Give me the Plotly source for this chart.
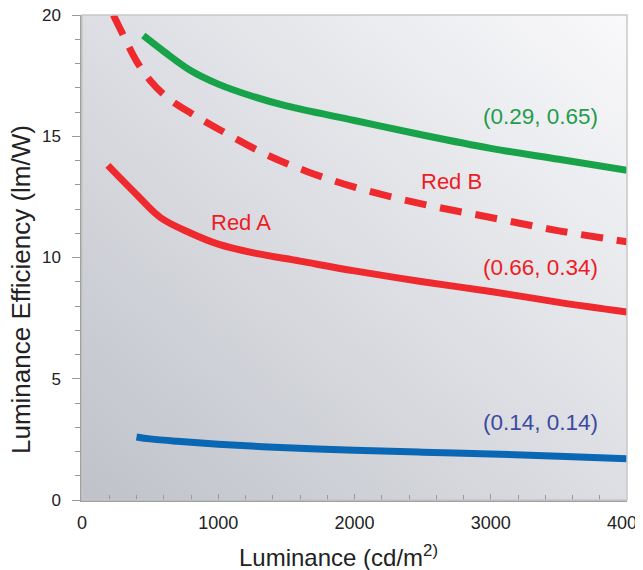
import plotly.graph_objects as go

# ---- data ----
lum_green = [450, 600, 800, 1000, 1250, 1500, 2000, 2500, 3000, 3500, 4000]
eff_green = [19.15, 18.5, 17.7, 17.15, 16.65, 16.25, 15.65, 15.05, 14.5, 14.05, 13.6]

lum_redb = [230, 300, 400, 500, 625, 800, 1000, 1350, 1650, 2000, 2500, 3000, 3500, 4000]
eff_redb = [20.0, 19.2, 18.1, 17.3, 16.6, 15.95, 15.3, 14.25, 13.55, 12.9, 12.2, 11.65, 11.1, 10.65]

lum_reda = [190, 400, 575, 800, 1000, 1250, 1600, 2000, 2500, 3000, 3500, 4000]
eff_reda = [13.8, 12.6, 11.65, 11.0, 10.55, 10.2, 9.85, 9.45, 9.0, 8.6, 8.15, 7.75]

lum_blue = [400, 500, 700, 1000, 1500, 2000, 2500, 3000, 3500, 4000]
eff_blue = [2.6, 2.52, 2.42, 2.3, 2.15, 2.05, 1.97, 1.9, 1.8, 1.7]

labels = ["(0.29, 0.65)", "Red B", "Red A", "(0.66, 0.34)", "(0.14, 0.14)"]
label_x = [3365, 2713, 1168, 3365, 3365]
label_y = [15.8, 13.15, 11.46, 9.57, 3.18]
label_colors = ["#1f9d4c", "#ee1c25", "#ee1c25", "#ee1c25", "#3c4aa0"]
label_sizes = [22.5, 22, 22, 22.5, 22.5]

x_ticks = [0, 1000, 2000, 3000, 4000]
y_ticks = [0, 5, 10, 15, 20]
x_title = "Luminance (cd/m<sup>2)</sup>"
y_title = "Luminance Efficiency (lm/W)"

GREEN = "#18a34a"
RED = "#ee2a2f"
BLUE = "#0a67b4"
FONT = "Liberation Sans, Arial, sans-serif"

fig = go.Figure()
fig.add_trace(go.Scatter(x=lum_green, y=eff_green, mode="lines",
                         line=dict(color=GREEN, width=7, shape="spline"), showlegend=False))
fig.add_trace(go.Scatter(x=lum_redb, y=eff_redb, mode="lines",
                         line=dict(color=RED, width=7, shape="spline", dash="22px,14px"),
                         showlegend=False))
fig.add_trace(go.Scatter(x=lum_reda, y=eff_reda, mode="lines",
                         line=dict(color=RED, width=7, shape="spline"), showlegend=False))
fig.add_trace(go.Scatter(x=lum_blue, y=eff_blue, mode="lines",
                         line=dict(color=BLUE, width=7, shape="spline"), showlegend=False))

for t, x, y, c, s in zip(labels, label_x, label_y, label_colors, label_sizes):
    fig.add_annotation(x=x, y=y, text=t, showarrow=False,
                       font=dict(family=FONT, size=s, color=c))

# axis titles (placed as annotations to match the reference's off-centre positions)
fig.add_annotation(text=x_title, xref="paper", yref="paper", x=0.471, y=0,
                   xanchor="center", yanchor="top", yshift=-39, showarrow=False,
                   font=dict(family=FONT, size=24, color="#222"))
fig.add_annotation(text=y_title, xref="paper", yref="paper", x=0, y=0.433,
                   xanchor="right", yanchor="middle", xshift=-45, textangle=-90,
                   showarrow=False, borderpad=0,
                   font=dict(family=FONT, size=26, color="#222"))

svg = ("data:image/svg+xml;utf8,<svg xmlns='http://www.w3.org/2000/svg' width='100' height='100' "
       "preserveAspectRatio='none' viewBox='0 0 100 100'><defs><linearGradient id='g' x1='0' y1='1' x2='1' y2='0'>"
       "<stop offset='0' stop-color='%23bfc2c9'/><stop offset='0.5' stop-color='%23dcdee3'/>"
       "<stop offset='1' stop-color='%23f9f9fb'/></linearGradient></defs>"
       "<rect width='100' height='100' fill='url(%23g)'/></svg>")
fig.add_layout_image(dict(source=svg, xref="paper", yref="paper", x=0, y=1,
                          sizex=1, sizey=1, sizing="stretch", layer="below",
                          xanchor="left", yanchor="top"))

fig.add_shape(type="rect", xref="paper", yref="paper", x0=0, y0=0, x1=1, y1=1,
              line=dict(color="#c8c8c8", width=1.5), layer="above")

fig.update_layout(
    width=643, height=570,
    margin=dict(l=74, r=24, t=7, b=78),
    paper_bgcolor="white", plot_bgcolor="rgba(0,0,0,0)",
    font=dict(family=FONT, color="#222"),
)
fig.update_xaxes(range=[0, 4000], tickvals=x_ticks, ticks="inside", ticklen=6,
                 tickcolor="#999", showgrid=False, zeroline=False, automargin=False,
                 showline=True, linecolor="#a0a0a0", linewidth=1.5,
                 ticklabeloverflow="allow", ticklabelstandoff=6,
                 tickfont=dict(family=FONT, size=18, color="#222"),
                 minor=dict(dtick=200, ticks="inside", ticklen=5, tickcolor="#999"))
fig.update_yaxes(range=[0, 20], tickvals=y_ticks, ticks="outside", ticklen=8,
                 tickcolor="#999", showgrid=False, zeroline=False, automargin=False,
                 showline=True, linecolor="#a0a0a0", linewidth=1.5,
                 ticklabeloverflow="allow", ticklabelstandoff=8,
                 tickfont=dict(family=FONT, size=17, color="#222"),
                 minor=dict(dtick=1, ticks="outside", ticklen=5, tickcolor="#999"))

fig.write_html("out.html")
